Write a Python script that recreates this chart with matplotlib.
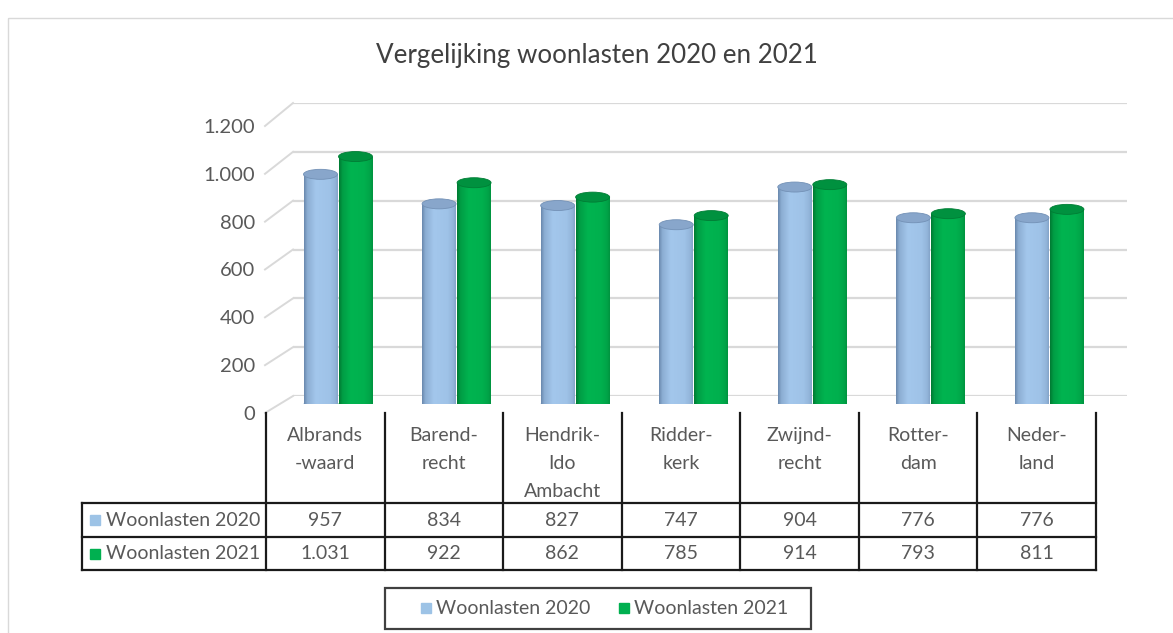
import matplotlib
matplotlib.use("Agg")
import matplotlib.pyplot as plt
import numpy as np
from matplotlib.patches import Ellipse, Rectangle
from matplotlib.colors import to_rgb

# ---------------- data ----------------
categories = ["Albrands\n-waard", "Barend-\nrecht", "Hendrik-\nIdo\nAmbacht", "Ridder-\nkerk",
              "Zwijnd-\nrecht", "Rotter-\ndam", "Neder-\nland"]
series_names = ["Woonlasten 2020", "Woonlasten 2021"]
values_2020 = [957, 834, 827, 747, 904, 776, 776]
values_2021 = [1031, 922, 862, 785, 914, 793, 811]
y_ticks = [0, 200, 400, 600, 800, 1000, 1200]
title = "Vergelijking woonlasten 2020 en 2021"

# ---------------- style ----------------
W, H = 1173, 633
plt.rcParams['font.family'] = ['Lato', 'DejaVu Sans']
TXT = '#595959'
series_main = ['#A3C7EC', '#00B450']
series_edge = ['#6A89AE', '#007A33']
series_top = ['#88A6CB', '#00913F']
series_topedge = ['#7391B6', '#007D35']
legend_cols = ['#9DC3E6', '#00B050']

fig = plt.figure(figsize=(W / 100, H / 100), dpi=100)


def fa(l, r, t, b):
    return [l / W, 1 - b / H, (r - l) / W, (b - t) / H]


def fmt(v):
    return f"{v:,}".replace(",", ".")


# back wall with gridlines
axb = fig.add_axes(fa(293, 1127, 103, 396), zorder=0)
axb.set_xlim(0, 1)
axb.set_ylim(0, 1200)
for v in y_ticks:
    axb.axhline(v, color='#d9d9d9', lw=1.6)
axb.axis('off')

# front plane: value axis labels
axf = fig.add_axes(fa(266, 1096, 126, 413), zorder=1)
axf.set_facecolor('none')
axf.set_xlim(-0.5, 6.5)
axf.set_ylim(0, 1200)
axf.set_yticks(y_ticks)
axf.set_yticklabels([fmt(v) for v in y_ticks])
axf.set_xticks([])
axf.tick_params(axis='y', length=0, pad=8, labelsize=14.5, labelcolor=TXT)
for s in axf.spines.values():
    s.set_visible(False)

# overlay in pixel coordinates for layout elements
ov = fig.add_axes([0, 0, 1, 1], zorder=2)
ov.set_facecolor('none')
ov.set_xlim(0, W)
ov.set_ylim(H, 0)
ov.axis('off')

# side wall diagonals (front label level -> back wall level)
inv = ov.transData.inverted()
for v in y_ticks:
    p0 = inv.transform(axf.transData.transform((-0.5, v)))
    p1 = inv.transform(axb.transData.transform((0, v)))
    ov.plot([p0[0] - 1, p1[0]], [p0[1], p1[1]], color='#d9d9d9', lw=1.4)

# bars (mid-depth plane)
px_per_unit = 0.24
base_y = 404
col_w = 830 / 7
left = 338 - col_w / 2
axc = fig.add_axes(fa(left, left + 830, base_y - 1200 * px_per_unit, base_y), zorder=3)
axc.set_facecolor('none')
axc.set_xlim(-0.5, 6.5)
axc.set_ylim(0, 1200)
axc.axis('off')

bw = 34 / col_w
off = 17.5 / col_w
eh = 5 / px_per_unit  # semi-height of the ellipses in data units


def gradient(main, edge, n=80):
    t = np.linspace(0, 1, n)
    w = np.interp(t, [0, 0.1, 0.35, 0.75, 0.92, 1.0], [0.0, 0.6, 1.0, 0.93, 0.72, 0.45])
    m = np.array(to_rgb(main))
    e = np.array(to_rgb(edge))
    cols = e[None, :] * (1 - w[:, None]) + m[None, :] * w[:, None]
    return cols[None, :, :]


x = np.arange(len(categories))
for si, vals in enumerate([values_2020, values_2021]):
    grad = gradient(series_main[si], series_edge[si])
    xs = x + (-off if si == 0 else off)
    zb = 2 + si
    bars = axc.bar(xs, vals, width=bw, color=series_main[si], linewidth=0, zorder=zb)
    for xc, v, rect in zip(xs, vals, bars.patches):
        x0, x1 = xc - bw / 2, xc + bw / 2
        im = axc.imshow(grad, extent=[x0, x1, 0, v], aspect='auto',
                        interpolation='bilinear', zorder=zb + 0.1)
        im.set_clip_path(rect)
        bot = Ellipse((xc, 0), bw, 2 * eh, facecolor=series_main[si], edgecolor='none', zorder=zb - 0.05)
        axc.add_patch(bot)
        im2 = axc.imshow(grad, extent=[x0, x1, -eh, 0], aspect='auto',
                         interpolation='bilinear', zorder=zb - 0.04)
        im2.set_clip_path(bot)
        axc.add_patch(Ellipse((xc, v), bw, 2 * eh, facecolor=series_top[si],
                              edgecolor=series_topedge[si], lw=0.6, zorder=zb + 0.2))
axc.set_xlim(-0.5, 6.5)
axc.set_ylim(0, 1200)

# ---------------- data table ----------------
tl, tr = 82, 1096
cl = 266
cw = (tr - cl) / 7
y_head, y_r1, y_r2, y_bot = 413, 503, 537, 570
lc = '#1a1a1a'
lw = 1.6
for y in [y_r1, y_r2, y_bot]:
    ov.plot([tl, tr], [y, y], color=lc, lw=lw, solid_capstyle='projecting')
ov.plot([tl, tl], [y_r1, y_bot], color=lc, lw=lw, solid_capstyle='projecting')
for k in range(len(categories) + 1):
    xx = cl + k * cw
    ov.plot([xx, xx], [y_head, y_bot], color=lc, lw=lw, solid_capstyle='projecting')

for k, cat in enumerate(categories):
    ov.text(cl + (k + 0.5) * cw, 427, cat, ha='center', va='top', linespacing=1.8,
            fontsize=14, color=TXT)

row_y = [(y_r1 + y_r2) / 2, (y_r2 + y_bot) / 2]
for si, vals in enumerate([values_2020, values_2021]):
    ov.plot([95], [row_y[si]], marker='s', markersize=7.3, color=legend_cols[si], linestyle='none')
    ov.text(106, row_y[si], series_names[si], ha='left', va='center', fontsize=14, color=TXT)
    for k, v in enumerate(vals):
        ov.text(cl + (k + 0.5) * cw, row_y[si], fmt(v), ha='center', va='center',
                fontsize=14, color=TXT)

# ---------------- legend ----------------
ov.add_patch(Rectangle((385, 588), 426, 41, facecolor='white', edgecolor='#404040', lw=1.6))
leg_x = [426, 624]
for si in range(2):
    ov.plot([leg_x[si]], [608], marker='s', markersize=7.3, color=legend_cols[si], linestyle='none')
    ov.text(leg_x[si] + 10, 608, series_names[si], ha='left', va='center', fontsize=14, color=TXT)

# ---------------- title & frame ----------------
ov.text(597, 55, title, ha='center', va='center', fontsize=18.7, color='#404040')
ov.add_patch(Rectangle((8, 18), W, H, facecolor='none', edgecolor='#d9d9d9', lw=1.0))

fig.savefig('out.png', dpi=100)
